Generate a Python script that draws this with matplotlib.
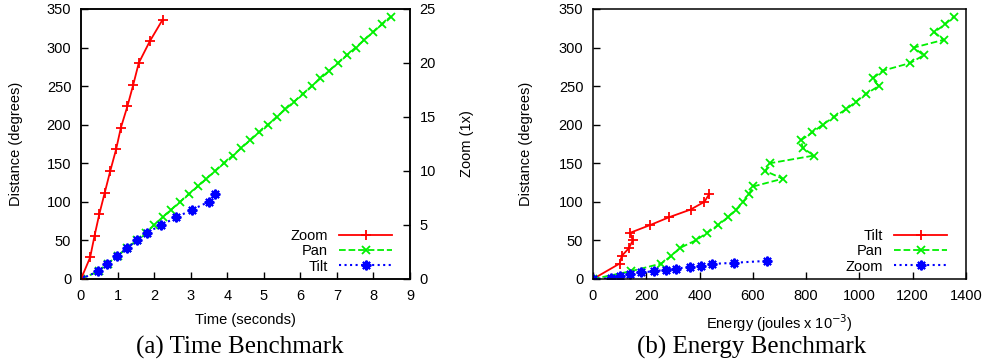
import matplotlib
matplotlib.use("Agg")
import matplotlib.pyplot as plt

# (a) time benchmark
zoom_time = [0, 0.25, 0.37, 0.5, 0.65, 0.8, 0.96, 1.09, 1.27, 1.43, 1.58, 1.88, 2.23]
zoom_level = [0, 2, 4, 6, 8, 10, 12, 14, 16, 18, 20, 22, 24]

pan_time = [0, 0.48, 0.74, 1.0, 1.26, 1.52, 1.77, 2.0, 2.23, 2.47, 2.71, 2.95,
            3.19, 3.43, 3.67, 3.91, 4.15, 4.39, 4.63, 4.87, 5.11, 5.35, 5.59,
            5.83, 6.07, 6.31, 6.55, 6.79, 7.03, 7.27, 7.51, 7.75, 7.99, 8.23, 8.47]
pan_deg = [0, 10, 20, 30, 40, 50, 60, 70, 80, 90, 100, 110, 120, 130, 140, 150,
           160, 170, 180, 190, 200, 210, 220, 230, 240, 250, 260, 270, 280, 290,
           300, 310, 320, 330, 340]

tilt_time = [0, 0.47, 0.72, 0.99, 1.26, 1.52, 1.8, 2.2, 2.61, 3.05, 3.49, 3.66]
tilt_deg = [0, 10, 20, 30, 40, 50, 60, 70, 80, 90, 100, 110]

# (b) energy benchmark
tilt_energy = [0, 100, 108, 135, 149, 140, 215, 285, 366, 418, 436]
tilt_deg_e = [0, 20, 30, 40, 50, 60, 70, 80, 90, 100, 110]

pan_energy = [0, 141, 256, 294, 325, 385, 429, 470, 506, 537, 563, 585, 602,
              712, 647, 663, 829, 787, 781, 823, 862, 904, 950, 988, 1025,
              1072, 1050, 1087, 1191, 1241, 1204, 1316, 1281, 1321, 1354]
pan_deg_e = [0, 10, 20, 30, 40, 50, 60, 70, 80, 90, 100, 110, 120, 130, 140,
             150, 160, 170, 180, 190, 200, 210, 220, 230, 240, 250, 260, 270,
             280, 290, 300, 310, 320, 330, 340]

zoom_energy = [0, 67, 100, 139, 180, 228, 273, 313, 363, 404, 445, 528, 653]
zoom_deg_e = [0, 1, 4, 6.5, 8.5, 10, 12, 13.5, 15.5, 17, 19.5, 21, 23.5]

plt.rcParams['font.family'] = ['Liberation Sans', 'DejaVu Sans']
plt.rcParams['font.size'] = 10.5

RED, GREEN, BLUE = '#ff0000', '#00f000', '#0000ff'
star = (8, 2, 0)
FS = 10.5

fig = plt.figure(figsize=(9.87, 3.64), dpi=100)
ax1 = fig.add_axes([81 / 987, 85 / 364, 329 / 987, 270 / 364])
ax3 = fig.add_axes([593 / 987, 85 / 364, 373 / 987, 270 / 364])


def style(ax):
    ax.tick_params(direction='in', length=5, width=1, pad=7, labelsize=FS)
    for s in ax.spines.values():
        s.set_linewidth(1.1)


# left plot
ax2 = ax1.twinx()
h_pan, = ax1.plot(pan_time, pan_deg, color=GREEN, ls='--', lw=1.3,
                  marker='x', ms=6, mew=1.3, label='Pan')
h_tilt, = ax1.plot(tilt_time, tilt_deg, color=BLUE, ls=':', lw=1.5,
                   marker=star, ms=7, mew=1.5, label='Tilt')
h_zoom, = ax2.plot(zoom_time, zoom_level, color=RED, ls='-', lw=1.3,
                   marker='+', ms=7, mew=1.3, label='Zoom')
ax1.set_xlim(0, 9)
ax1.set_ylim(0, 350)
ax2.set_ylim(0, 25)
ax1.set_xticks(range(0, 10))
ax1.set_yticks(range(0, 351, 50))
ax2.set_yticks(range(0, 26, 5))
style(ax1)
style(ax2)
ax1.set_xlabel('Time (seconds)', fontsize=FS)
ax1.set_ylabel('Distance (degrees)', fontsize=FS)
ax2.set_ylabel('Zoom (1x)', fontsize=FS)
ax1.xaxis.set_label_coords(0.5, -0.125)
ax1.yaxis.set_label_coords(-0.176, 0.5)
ax2.yaxis.set_label_coords(1.152, 0.5)
ax1.legend([h_zoom, h_pan, h_tilt], ['Zoom', 'Pan', 'Tilt'], loc='lower right',
           bbox_to_anchor=(0.945, 0.02), markerfirst=False, frameon=False,
           handlelength=3.6, handletextpad=0.8, labelspacing=0.1,
           borderpad=0, borderaxespad=0, fontsize=FS)

# right plot
ax3.plot(tilt_energy, tilt_deg_e, color=RED, ls='-', lw=1.3,
         marker='+', ms=7, mew=1.3, label='Tilt')
ax3.plot(pan_energy, pan_deg_e, color=GREEN, ls='--', lw=1.3,
         marker='x', ms=6, mew=1.3, label='Pan')
ax3.plot(zoom_energy, zoom_deg_e, color=BLUE, ls=':', lw=1.5,
         marker=star, ms=7, mew=1.5, label='Zoom')
ax3.set_xlim(0, 1400)
ax3.set_ylim(0, 350)
ax3.set_xticks(range(0, 1401, 200))
ax3.set_yticks(range(0, 351, 50))
style(ax3)
ax3.set_xlabel('Energy (joules x 10$^{-3}$)', fontsize=FS)
ax3.set_ylabel('Distance (degrees)', fontsize=FS)
ax3.xaxis.set_label_coords(0.5, -0.125)
ax3.yaxis.set_label_coords(-0.161, 0.5)
ax3.legend(loc='lower right', bbox_to_anchor=(0.949, 0.02), markerfirst=False,
           frameon=False, handlelength=3.6, handletextpad=0.8, labelspacing=0.1,
           borderpad=0, borderaxespad=0, fontsize=FS)

fig.text(240 / 987, 1 - 347 / 364, '(a) Time Benchmark', ha='center', va='center',
         family='Liberation Serif', fontsize=18)
fig.text(752 / 987, 1 - 347 / 364, '(b) Energy Benchmark', ha='center', va='center',
         family='Liberation Serif', fontsize=18)

fig.savefig('out.png', dpi=100)
